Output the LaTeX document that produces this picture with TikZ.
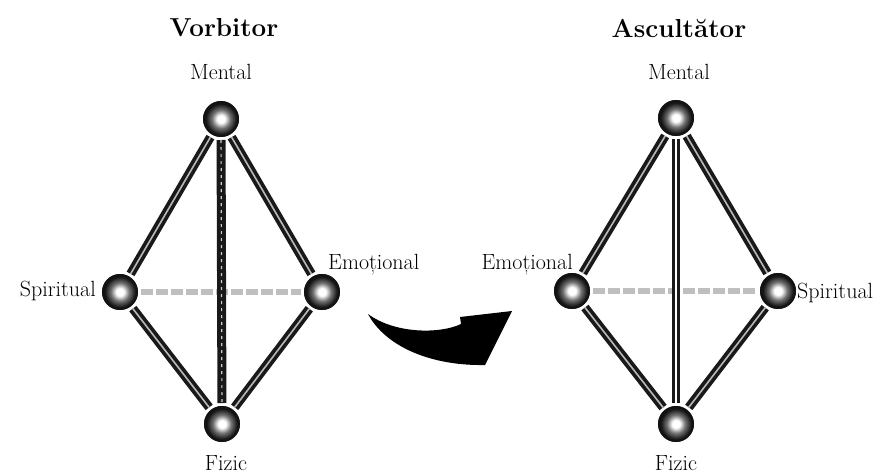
\documentclass[tikz,border=0pt]{standalone}
\usepackage{fontspec}
\usetikzlibrary{backgrounds}
\pgfdeclareradialshading{orb}{\pgfpoint{0bp}{0bp}}{color(0bp)=(white); color(5bp)=(white); color(12bp)=(black!55); color(20bp)=(black!92); color(40bp)=(black); color(50bp)=(black)}
\begin{document}
\begin{tikzpicture}[x=1pt,y=-1pt,
  orbnode/.style={circle, minimum size=38pt, inner sep=0pt, shading=orb, draw=white, line width=1.5pt, outer sep=2pt},
  lbl/.style={font=\fontsize{22}{26}\selectfont, inner sep=0pt},
  ttl/.style={font=\fontsize{26}{30}\selectfont\bfseries, inner sep=0pt},
  rod/.style={line width=9pt, black!90},
  rodcore/.style={line width=1.6pt, gray!55},
  backrod/.style={line width=6pt, gray!50, dash pattern=on 12pt off 3pt}]
\useasboundingbox (0,0) rectangle (884,474);

% left diamond
\node[orbnode] (LM) at (221,119) {};
\node[orbnode] (LS) at (120,292) {};
\node[orbnode] (LE) at (322,292) {};
\node[orbnode] (LF) at (222,424) {};
% right diamond
\node[orbnode] (RM) at (676,118) {};
\node[orbnode] (RE) at (572,291) {};
\node[orbnode] (RS) at (778,291) {};
\node[orbnode] (RF) at (676,424) {};

\begin{pgfonlayer}{background}
  \fill[white] (0,0) rectangle (884,474);
  \draw[backrod] (LS) -- (LE);
  \draw[backrod] (RE) -- (RS);
  \foreach \a/\b in {LM/LS, LM/LE, LS/LF, LE/LF, RM/RE, RM/RS, RE/RF, RS/RF} {
    \draw[rod] (\a) -- (\b);
    \draw[rodcore] (\a) -- (\b);
  }
  \draw[rod] (LM) -- (LF);
  \draw[line width=1.2pt, gray!40, dash pattern=on 3pt off 4pt] (LM) -- (LF);
  \draw[line width=3pt, black!90, double=white, double distance=2.5pt] (RM) -- (RF);
\end{pgfonlayer}

% titles and labels
\node[ttl, anchor=base] (tL) at (224,36) {Vorbitor};
\node[ttl, anchor=base] (tR) at (679,37) {Ascultător};
\node[lbl, anchor=base] (lLM) at (221,79.5) {Mental};
\node[lbl, anchor=base] (lRM) at (679,79.5) {Mental};
\node[lbl, anchor=base east] (lLS) at (96,296) {Spiritual};
\node[lbl, anchor=base west] (lLE) at (328,269) {Emoțional};
\node[lbl, anchor=base east] (lRE) at (573,269) {Emoțional};
\node[lbl, anchor=base west] (lRS) at (797,298) {Spiritual};
\node[lbl, anchor=base] (lLF) at (226,470) {Fizic};
\node[lbl, anchor=base] (lRF) at (676,470) {Fizic};

% curved arrow
\fill[black] (368,314) .. controls (385,346) and (430,366) .. (485,365)
  -- (512,311) -- (460,317) -- (461,324)
  .. controls (440,334) and (395,334) .. cycle;
\end{tikzpicture}
\end{document}
